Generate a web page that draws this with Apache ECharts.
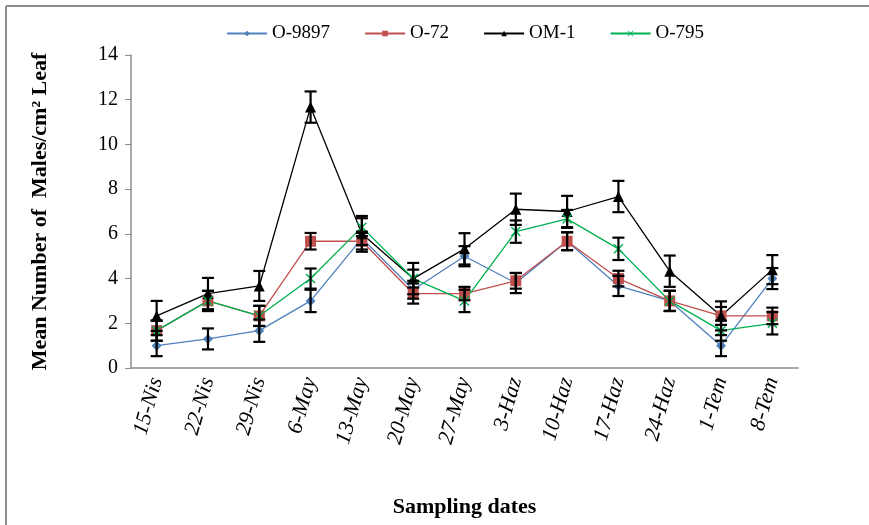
<!DOCTYPE html>
<html>
<head>
<meta charset="utf-8">
<script src="https://cdn.jsdelivr.net/npm/echarts@6/dist/echarts.min.js"></script>
<style>
  html, body { margin: 0; padding: 0; background: #fff; }
  #chart { width: 869px; height: 525px; }
</style>
</head>
<body>
<div id="chart"></div>
<script>
// sampling dates
const dates = ["15-Nis", "22-Nis", "29-Nis", "6-May", "13-May", "20-May", "27-May",
  "3-Haz", "10-Haz", "17-Haz", "24-Haz", "1-Tem", "8-Tem"];

// mean values
const o9897 = [1.0, 1.3, 1.67, 3.0, 5.8, 3.5, 5.0, 3.8, 5.67, 3.67, 3.0, 1.0, 4.0];
const o72 = [1.67, 3.0, 2.33, 5.67, 5.67, 3.33, 3.33, 3.9, 5.67, 4.0, 3.0, 2.33, 2.33];
const om1 = [2.33, 3.33, 3.67, 11.67, 6.0, 4.0, 5.33, 7.1, 7.0, 7.67, 4.33, 2.33, 4.4];
const o795 = [1.67, 3.0, 2.33, 4.0, 6.3, 4.0, 3.0, 6.1, 6.67, 5.33, 3.0, 1.67, 2.0];

// error bar half-lengths
const o9897Err = [0.47, 0.47, 0.5, 0.5, 0.3, 0.4, 0.45, 0.45, 0.4, 0.45, 0.45, 0.47, 0.47];
const o72Err = [0.45, 0.45, 0.45, 0.37, 0.37, 0.45, 0.3, 0.35, 0.4, 0.35, 0.45, 0.4, 0.37];
const om1Err = [0.67, 0.7, 0.67, 0.7, 0.8, 0.7, 0.7, 0.7, 0.7, 0.7, 0.7, 0.65, 0.65];
const o795Err = [0.45, 0.45, 0.45, 0.45, 0.4, 0.4, 0.5, 0.5, 0.4, 0.5, 0.45, 0.45, 0.5];

const yTicks = [0, 2, 4, 6, 8, 10, 12, 14];

const font = "'Liberation Serif', 'Times New Roman', serif";
const crossPath = "path://M0,1L1,0L5,4L9,0L10,1L6,5L10,9L9,10L5,6L1,10L0,9L4,5Z";

const chart = echarts.init(document.getElementById("chart"));

function lineSeries(name, data, color, symbol, size) {
  return {
    name: name,
    type: "line",
    data: data,
    symbol: symbol,
    symbolSize: size,
    z: 3,
    lineStyle: { color: color, width: 1.3 },
    itemStyle: { color: color },
  };
}

function errorSeries(name, vals, errs) {
  return {
    name: name,
    type: "custom",
    z: 4,
    data: vals.map((v, i) => [i, v - errs[i], v + errs[i]]),
    renderItem: function (params, api) {
      const lo = api.coord([api.value(0), api.value(1)]);
      const hi = api.coord([api.value(0), api.value(2)]);
      const w = 6;
      const st = { stroke: "#000", lineWidth: 2.2 };
      return {
        type: "group",
        children: [
          { type: "line", shape: { x1: lo[0], y1: lo[1], x2: hi[0], y2: hi[1] }, style: st },
          { type: "line", shape: { x1: lo[0] - w, y1: lo[1], x2: lo[0] + w, y2: lo[1] }, style: st },
          { type: "line", shape: { x1: hi[0] - w, y1: hi[1], x2: hi[0] + w, y2: hi[1] }, style: st },
        ],
      };
    },
  };
}

const option = {
  animation: false,
  textStyle: { fontFamily: font },
  graphic: [
    { type: "line", shape: { x1: 6, y1: 6, x2: 869, y2: 6 }, style: { stroke: "#8c8c8c", lineWidth: 2 } },
    { type: "line", shape: { x1: 6, y1: 6, x2: 6, y2: 525 }, style: { stroke: "#8c8c8c", lineWidth: 2 } },
  ],
  legend: {
    top: 19,
    left: 221,
    itemGap: 34,
    itemWidth: 40,
    itemHeight: 7,
    textStyle: { fontFamily: font, fontSize: 19, color: "#000" },
    data: ["O-9897", "O-72", "OM-1", "O-795"],
  },
  grid: { left: 131, right: 71, top: 55, bottom: 157 },
  xAxis: {
    type: "category",
    data: dates,
    boundaryGap: true,
    name: "Sampling dates",
    nameLocation: "middle",
    nameGap: 128,
    nameTextStyle: { fontFamily: font, fontSize: 22, fontWeight: "bold", color: "#000" },
    axisLine: { lineStyle: { color: "#8c8c8c", width: 1.5 } },
    axisTick: { alignWithLabel: false, length: 6, lineStyle: { color: "#8c8c8c" } },
    axisLabel: { rotate: 74, fontStyle: "italic", fontSize: 22, color: "#000", fontFamily: font, margin: 10 },
  },
  yAxis: {
    type: "value",
    min: yTicks[0],
    max: yTicks[yTicks.length - 1],
    interval: 2,
    name: "Mean Number of  Males/cm² Leaf",
    nameLocation: "middle",
    nameGap: 80,
    nameTextStyle: { fontFamily: font, fontSize: 22, fontWeight: "bold", color: "#000" },
    axisLine: { show: true, lineStyle: { color: "#8c8c8c", width: 1.5 } },
    axisTick: { show: true, length: 6, lineStyle: { color: "#8c8c8c" } },
    splitLine: { show: false },
    axisLabel: { fontSize: 20, color: "#000", fontFamily: font, margin: 13 },
  },
  series: [
    lineSeries("O-9897", o9897, "#4F81BD", "diamond", 10),
    lineSeries("O-72", o72, "#C0504D", "rect", 11),
    lineSeries("OM-1", om1, "#000000", "triangle", 11),
    lineSeries("O-795", o795, "#00B050", crossPath, 10),
    errorSeries("O-9897", o9897, o9897Err),
    errorSeries("O-72", o72, o72Err),
    errorSeries("OM-1", om1, om1Err),
    errorSeries("O-795", o795, o795Err),
  ],
};

option && chart.setOption(option);
</script>
</body>
</html>
